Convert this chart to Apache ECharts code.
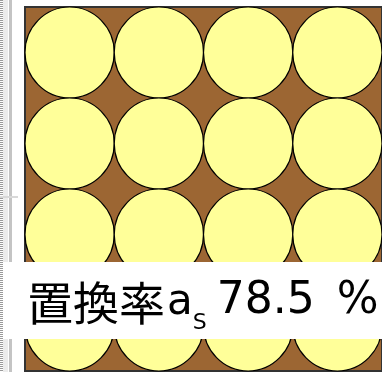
<!DOCTYPE html>
<html>
<head>
<meta charset="utf-8">
<script src="https://cdn.jsdelivr.net/npm/echarts@6/dist/echarts.min.js"></script>
<style>
html,body{margin:0;padding:0;background:#fff;}
#c{width:382px;height:372px;}
</style>
</head>
<body>
<div id="c"></div>
<script>
// Circle grid: column centers, row centers (in cell units), radius
const colCenters = [0.5, 1.5, 2.5, 3.5];
const rowCenters = [0.5, 1.5, 2.5, 3.5];
const radius = 0.5;
const labelCJK = '置換率';
const labelMain = 'a';
const labelSub = 'S';
const labelValue = '78.5';
const labelUnit = '%';

const circles = [];
rowCenters.forEach(function (y) {
  colCenters.forEach(function (x) { circles.push([x, y, radius]); });
});

const chart = echarts.init(document.getElementById('c'), null, {renderer: 'canvas'});
chart.setOption({
  animation: false,
  grid: {
    left: 25, top: 7, width: 368, height: 364,
    show: true, backgroundColor: '#9C6633', borderColor: '#333', borderWidth: 2
  },
  xAxis: {type: 'value', min: 0, max: 4, show: false},
  yAxis: {type: 'value', min: 0, max: 4, inverse: true, show: false},
  series: [{
    type: 'custom',
    clip: false,
    data: circles,
    renderItem: function (params, api) {
      const c = api.coord([api.value(0), api.value(1)]);
      const s = api.size([api.value(2), api.value(2)]);
      return {
        type: 'ellipse',
        shape: {cx: c[0], cy: c[1], rx: s[0], ry: s[1]},
        style: {fill: '#FFFF99', stroke: '#000', lineWidth: 1.2}
      };
    }
  }],
  graphic: [
    {type: 'line', shape: {x1: 1.5, y1: 0, x2: 1.5, y2: 372}, style: {stroke: '#9a9a9a', lineWidth: 3, lineDash: [1, 1]}, z: 100},
    {type: 'rect', shape: {x: 3, y: 0, width: 5, height: 372}, style: {fill: '#ececec'}, z: 100},
    {type: 'rect', shape: {x: 9, y: 0, width: 3, height: 372}, style: {fill: '#c4c4c4'}, z: 100},
    {type: 'rect', shape: {x: 0, y: 196, width: 18, height: 2}, style: {fill: '#d8d8d8'}, z: 100},
    {type: 'rect', shape: {x: 3, y: 262, width: 379, height: 77}, style: {fill: '#ffffff'}, z: 101},
    {
      type: 'text', left: 27, top: 280, z: 102,
      style: {
        text: '{c|' + labelCJK + '}{a|' + labelMain + '}{s|' + labelSub + '}{v|' + labelValue + '}{u|' + labelUnit + '}',
        rich: {
          c: {fontSize: 46, fontFamily: '"Noto Sans CJK JP"', fill: '#000', lineHeight: 54, verticalAlign: 'bottom'},
          a: {fontSize: 42, fontFamily: '"DejaVu Sans"', fill: '#000', lineHeight: 54, verticalAlign: 'bottom', padding: [0, 0, 2, 2]},
          s: {fontSize: 22, fontFamily: '"DejaVu Sans"', fill: '#000', lineHeight: 54, verticalAlign: 'bottom', padding: [0, 0, -8, 0]},
          v: {fontSize: 44, fontFamily: '"DejaVu Sans"', fill: '#000', lineHeight: 54, verticalAlign: 'bottom', padding: [0, 0, 2, 10]},
          u: {fontSize: 44, fontFamily: '"DejaVu Sans"', fill: '#000', lineHeight: 54, verticalAlign: 'bottom', padding: [0, 0, 2, 22]}
        }
      }
    }
  ]
});
</script>
</body>
</html>
